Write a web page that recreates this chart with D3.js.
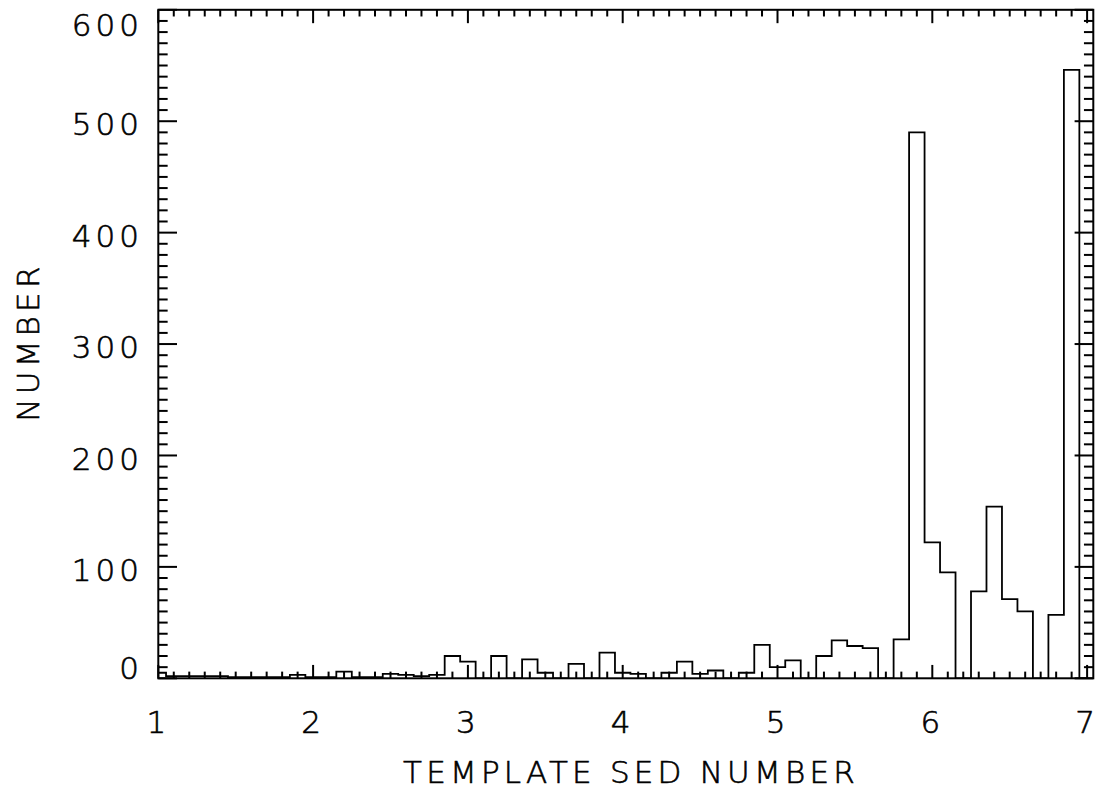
<!DOCTYPE html>
<html>
<head>
  <title>Template SED histogram</title>
  <script src='https://d3js.org/d3.v7.min.js'></script>
  <style>
    html, body { margin: 0; background: #fff; }
    text { font-family: 'DejaVu Sans', sans-serif; font-weight: 200; fill: #000; stroke: #000; stroke-width: 0.6px; }
  </style>
</head>
<body>
<script>
// bin centres (template SED number) and counts
var sedBins = [1.0, 1.1, 1.2, 1.3, 1.4, 1.5, 1.6, 1.7, 1.8, 1.9,
               2.0, 2.1, 2.2, 2.3, 2.4, 2.5, 2.6, 2.7, 2.8, 2.9,
               3.0, 3.1, 3.2, 3.3, 3.4, 3.5, 3.6, 3.7, 3.8, 3.9,
               4.0, 4.1, 4.2, 4.3, 4.4, 4.5, 4.6, 4.7, 4.8, 4.9,
               5.0, 5.1, 5.2, 5.3, 5.4, 5.5, 5.6, 5.7, 5.8, 5.9,
               6.0, 6.1, 6.2, 6.3, 6.4, 6.5, 6.6, 6.7, 6.8, 6.9, 7.0];
var counts = [5, 2, 2, 2, 2, 1, 1, 1, 1, 3,
              1, 1, 6, 1, 1, 4, 3, 2, 3, 20,
              15, 0, 20, 0, 17, 5, 0, 13, 0, 23,
              5, 4, 0, 5, 15, 4, 7, 0, 5, 30,
              10, 16, 0, 20, 34, 29, 27, 0, 35, 490,
              122, 95, 0, 78, 154, 71, 60, 0, 57, 546, 0];

var xMajor = [1, 2, 3, 4, 5, 6, 7];
var yMajor = [0, 100, 200, 300, 400, 500, 600];
var xTickLabels = ['1', '2', '3', '4', '5', '6', '7'];
var yTickLabels = ['0', '100', '200', '300', '400', '500', '600'];

var width = 1104, height = 793;
var pLeft = 158.3, pRight = 1093.3, pTop = 9.8, pBottom = 678.3;

var svg = d3.select('body').append('svg')
  .attr('width', width)
  .attr('height', height);

var x = d3.scaleLinear().domain([1, 7.04]).range([pLeft, pRight]);
var y = d3.scaleLinear().domain([0, 600]).range([pBottom, pTop]);

var plotW = pRight - pLeft, plotH = pBottom - pTop;
var xTickLen = 0.02 * plotH, yTickLen = 0.02 * plotW;

svg.append('clipPath').attr('id', 'plotclip')
  .append('rect')
  .attr('x', pLeft).attr('y', pTop)
  .attr('width', plotW).attr('height', plotH);

// histogram outline (psym=10 style)
var step = d3.line()
  .x(function(d, i) { return x(sedBins[i]); })
  .y(function(d) { return y(d); })
  .curve(d3.curveStep);

svg.append('path')
  .datum(counts)
  .attr('clip-path', 'url(#plotclip)')
  .attr('fill', 'none')
  .attr('stroke', '#000')
  .attr('stroke-width', 1.8)
  .attr('d', step);

// ticks on all four sides, pointing inward
var xTicks = x.ticks(60).map(function(v) {
  return { v: v, len: xMajor.indexOf(Math.round(v * 10) / 10) >= 0 ? xTickLen : xTickLen / 2 };
});
var yTicks = y.ticks(60).map(function(v) {
  return { v: v, len: yMajor.indexOf(v) >= 0 ? yTickLen : yTickLen / 2 };
});

var tickG = svg.append('g')
  .attr('stroke', '#000')
  .attr('stroke-width', 2);

[pBottom, pTop].forEach(function(edge, k) {
  var dir = k === 0 ? -1 : 1;
  tickG.selectAll(null)
    .data(xTicks)
    .enter().append('line')
    .attr('x1', function(d) { return x(d.v); })
    .attr('x2', function(d) { return x(d.v); })
    .attr('y1', edge)
    .attr('y2', function(d) { return edge + dir * d.len; });
});

[pLeft, pRight].forEach(function(edge, k) {
  var dir = k === 0 ? 1 : -1;
  tickG.selectAll(null)
    .data(yTicks)
    .enter().append('line')
    .attr('y1', function(d) { return y(d.v); })
    .attr('y2', function(d) { return y(d.v); })
    .attr('x1', edge)
    .attr('x2', function(d) { return edge + dir * d.len; });
});

svg.append('rect')
  .attr('x', pLeft).attr('y', pTop)
  .attr('width', plotW).attr('height', plotH)
  .attr('fill', 'none')
  .attr('stroke', '#000')
  .attr('stroke-width', 2);

// tick labels
svg.append('g').selectAll('text')
  .data(xMajor)
  .enter().append('text')
  .attr('x', function(d) { return x(d) - 2; })
  .attr('y', 733)
  .attr('text-anchor', 'middle')
  .style('font-size', '31px')
  .text(function(d, i) { return xTickLabels[i]; });

svg.append('g').selectAll('text')
  .data(yMajor)
  .enter().append('text')
  .attr('x', 143)
  .attr('y', function(d) {
    return Math.min(Math.max(y(d) + 3, pTop + 15), pBottom - 10.6);
  })
  .attr('dy', '0.36em')
  .attr('text-anchor', 'end')
  .style('font-size', '31px')
  .style('letter-spacing', '4px')
  .text(function(d, i) { return yTickLabels[i]; });

// axis titles
svg.append('text')
  .attr('x', 631)
  .attr('y', 783)
  .attr('text-anchor', 'middle')
  .style('font-size', '31px')
  .style('letter-spacing', '4.2px')
  .text('TEMPLATE SED NUMBER');

svg.append('text')
  .attr('transform', 'translate(39,342) rotate(-90)')
  .attr('text-anchor', 'middle')
  .style('font-size', '31px')
  .style('letter-spacing', '4.2px')
  .text('NUMBER');
</script>
</body>
</html>
